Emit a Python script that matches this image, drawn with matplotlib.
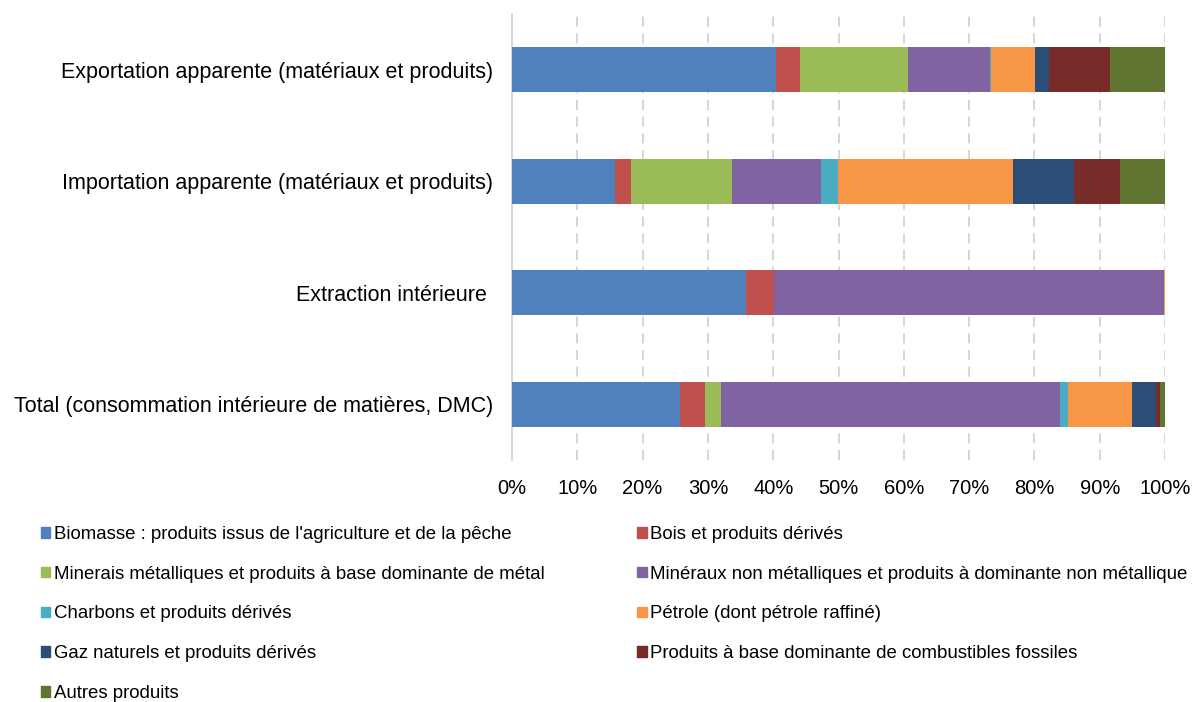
import numpy as np
import matplotlib.pyplot as plt
from matplotlib.patches import Patch

plt.rcParams['font.family'] = ['Liberation Sans', 'DejaVu Sans']

categories = [
    "Total (consommation intérieure de matières, DMC)",
    "Extraction intérieure ",
    "Importation apparente (matériaux et produits)",
    "Exportation apparente (matériaux et produits)",
]
series_names = [
    "Biomasse : produits issus de l'agriculture et de la pêche",
    "Bois et produits dérivés",
    "Minerais métalliques et produits à base dominante de métal",
    "Minéraux non métalliques et produits à dominante non métallique",
    "Charbons et produits dérivés",
    "Pétrole (dont pétrole raffiné)",
    "Gaz naturels et produits dérivés",
    "Produits à base dominante de combustibles fossiles",
    "Autres produits",
]
# shares in %, order: Total, Extraction, Importation, Exportation
biomasse = [25.8, 35.8, 15.8, 40.5]
bois = [3.8, 4.3, 2.4, 3.6]
minerais = [2.4, 0.0, 15.5, 16.6]
mineraux = [51.9, 59.8, 13.6, 12.6]
charbons = [1.2, 0.0, 2.6, 0.2]
petrole = [9.9, 0.1, 26.8, 6.6]
gaz = [3.6, 0.0, 9.4, 2.2]
fossiles = [0.6, 0.0, 7.0, 9.4]
autres = [0.8, 0.0, 6.9, 8.4]

colors = ['#4F81BD', '#C0504D', '#9BBB59', '#8064A2', '#4BACC6',
          '#F79646', '#2C4D75', '#772C2A', '#5F7530']

data = np.array([biomasse, bois, minerais, mineraux, charbons,
                 petrole, gaz, fossiles, autres])
data = data / data.sum(axis=0) * 100

fig = plt.figure(figsize=(11.93, 7.02), dpi=100)
ax = fig.add_axes([512 / 1193, 1 - 460 / 702, 653 / 1193, 446 / 702])

y = np.arange(len(categories))
left = np.zeros(len(categories))
for vals, col in zip(data, colors):
    ax.barh(y, vals, left=left, height=0.4, color=col, edgecolor='none', zorder=3)
    left += vals

ax.set_xlim(0, 100)
ax.set_ylim(-0.5, 3.5)
ax.set_xticks(np.arange(0, 101, 10))
ax.set_xticklabels([f'{v}%' for v in range(0, 101, 10)], fontsize=14.5)
ax.set_yticks(y)
ax.set_yticklabels(categories, fontsize=15.5)
ax.tick_params(length=0, pad=13.5, axis='y')
ax.tick_params(length=0, pad=13.5, axis='x')
for v in range(10, 101, 10):
    ax.axvline(v, color='#d0d0d0', lw=1.2, ls=(0, (6, 4)), zorder=1)
for s in ['top', 'right', 'bottom']:
    ax.spines[s].set_visible(False)
ax.spines['left'].set_color('#d0d0d0')
ax.spines['left'].set_linewidth(1.2)

handles = [Patch(color=c, label=n) for c, n in zip(colors, series_names)]
order = [0, 2, 4, 6, 8, 1, 3, 5, 7]
fig.legend([handles[i] for i in order], [series_names[i] for i in order],
           ncol=2, loc='upper left', bbox_to_anchor=(0.034, 0.2507),
           frameon=False, fontsize=13.4, handlelength=0.5, handleheight=0.5,
           handletextpad=0.2, labelspacing=1.22, columnspacing=5.0,
           borderaxespad=0, borderpad=0)

fig.savefig('out.png', dpi=100)
